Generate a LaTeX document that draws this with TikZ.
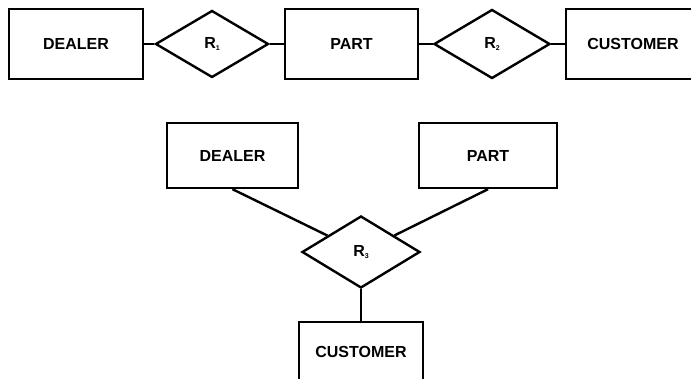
\documentclass[tikz,border=0pt]{standalone}
\usepackage{fontspec}
\setmainfont{Liberation Sans}
\usetikzlibrary{shapes.geometric}
\newcommand{\relname}[1]{R\raisebox{-2.5pt}{\fontsize{7}{7}\selectfont #1}}
\tikzset{
  entity/.style={draw, rectangle, line width=2.4pt, minimum width=134pt, minimum height=70pt,
    font=\fontsize{16}{18}\selectfont\bfseries},
  relation/.style={draw, diamond, line width=2.4pt, inner sep=0pt, minimum width=115pt, minimum height=69pt,
    font=\fontsize{16}{18}\selectfont\bfseries}
}
\begin{document}
\begin{tikzpicture}[x=1pt, y=-1pt]
      \useasboundingbox (0,0) rectangle (691,379);
      \clip (0,0) rectangle (691,379);
      \draw
        (76,44) node[entity] (d1){DEALER}
        (212,44) node[relation, minimum width=113pt, minimum height=67pt] (r1){\relname{1}}
        (351.5,44) node[entity, minimum width=133pt] (p1){PART}
        (492,44) node[relation, minimum width=116pt] (r2){\relname{2}}
        (633,44) node[entity] (c1){CUSTOMER}
        (232.5,155.5) node[entity, minimum width=131pt, minimum height=65pt] (d2){DEALER}
        (488,155.5) node[entity, minimum width=138pt, minimum height=65pt] (p2){PART}
        (361,252) node[relation, minimum width=118pt, minimum height=72pt] (r3){\relname{3}}
        (361,352) node[entity, minimum width=124pt, minimum height=60pt] (c2){CUSTOMER};
      \begin{scope}[-, line width=2.4pt]
        \draw (d1) to (r1);
        \draw (r1) to (p1);
        \draw (p1) to (r2);
        \draw (r2) to (c1);
        \draw (d2.south) to (r3);
        \draw (p2.south) to (r3);
        \draw (r3) to (c2);
      \end{scope}
    \end{tikzpicture}
\end{document}
